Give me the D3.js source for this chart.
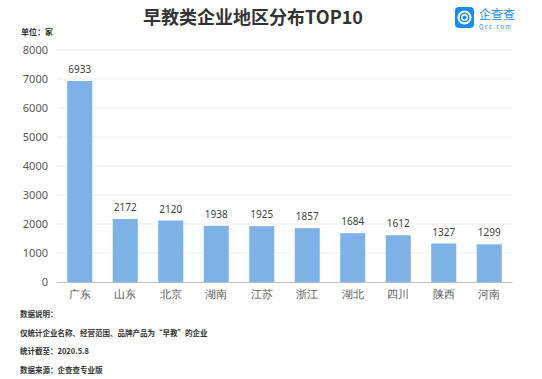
<!DOCTYPE html>
<html><head><meta charset="utf-8">
<script src="https://cdn.jsdelivr.net/npm/d3@7"></script>
<style>body{margin:0;background:#fff;}svg{display:block;font-family:"Noto Sans CJK SC","Noto Sans",sans-serif;}</style>
</head><body><svg id="c" width="542" height="379"></svg>
<script>
const categories = ["广东","山东","北京","湖南","江苏","浙江","湖北","四川","陕西","河南"];
const values = [6933,2172,2120,1938,1925,1857,1684,1612,1327,1299];
const yTicks = [0,1000,2000,3000,4000,5000,6000,7000,8000];
const notes = ["数据说明：","仅统计企业名称、经营范围、品牌产品为“早教”的企业","统计截至：2020.5.8","数据来源：企查查专业版"];

const svg = d3.select("#c");
const m = {l:57, r:30, t:50, b:97};
const W = 542, H = 379;
const x = d3.scaleBand().domain(categories).range([m.l, W-m.r]).paddingInner(0.45).paddingOuter(0.225);
const y = d3.scaleLinear().domain([0,8000]).range([H-m.b, m.t]);

svg.append("text").attr("x",253).attr("y",24).attr("text-anchor","middle")
  .attr("font-size",18).attr("font-weight","bold").attr("fill","#333").text("早教类企业地区分布TOP10");
svg.append("text").attr("x",21).attr("y",35).attr("font-size",8).attr("font-weight","bold").attr("fill","#333").text("单位：家");

// logo
const lg = svg.append("g");
lg.append("rect").attr("x",455).attr("y",7).attr("width",19).attr("height",21).attr("rx",4).attr("fill","#1a8cf0");
lg.append("circle").attr("cx",464.5).attr("cy",17.5).attr("r",6).attr("fill","none").attr("stroke","#fff").attr("stroke-width",2);
lg.append("circle").attr("cx",464.5).attr("cy",17.5).attr("r",2.7).attr("fill","none").attr("stroke","#fff").attr("stroke-width",1.4);
lg.append("text").attr("x",479).attr("y",19).attr("font-size",12).attr("fill","#1a8cf0").text("企查查");
lg.append("text").attr("x",479).attr("y",29).attr("font-size",6).attr("letter-spacing",1.3).attr("fill","#1a8cf0").text("Qcc.com");

// grid
svg.append("g").selectAll("line").data(yTicks.slice(1)).join("line")
  .attr("x1",m.l).attr("x2",W-m.r).attr("y1",d=>y(d)).attr("y2",d=>y(d))
  .attr("stroke","#ededed").attr("stroke-width",1);

const ya = svg.append("g").attr("transform",`translate(${m.l},0)`)
  .call(d3.axisLeft(y).tickValues(yTicks).tickFormat(d3.format("d")).tickSize(0).tickPadding(9));
ya.select(".domain").remove();
ya.selectAll("text").attr("font-size",11).attr("fill","#595959").attr("font-family","Noto Sans, sans-serif");

svg.append("g").selectAll("rect").data(values).join("rect")
  .attr("x",(d,i)=>x(categories[i])).attr("width",x.bandwidth())
  .attr("y",d=>y(d)).attr("height",d=>y(0)-y(d)).attr("fill","#7eb2e6");

svg.append("g").selectAll("text").data(values).join("text")
  .attr("x",(d,i)=>x(categories[i])+x.bandwidth()/2).attr("y",d=>y(d)-8)
  .attr("text-anchor","middle").attr("font-size",10).attr("fill","#404040")
  .attr("font-family","Noto Sans, sans-serif").text(d=>d);

const xa = svg.append("g").attr("transform",`translate(0,${y(0)})`)
  .call(d3.axisBottom(x).tickSize(0).tickPadding(8));
xa.select(".domain").attr("stroke","#bfbfbf");
xa.selectAll("text").attr("font-size",11).attr("fill","#595959");

svg.append("g").selectAll("text").data(notes).join("text")
  .attr("x",20).attr("y",(d,i)=>317+i*18.5).attr("font-size",7.5).attr("font-weight","bold").attr("fill","#333").text(d=>d);
</script></body></html>
